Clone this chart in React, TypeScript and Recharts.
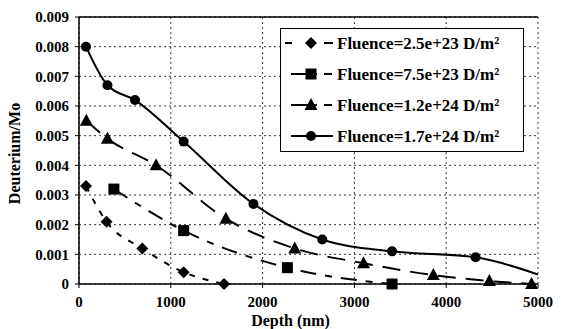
import React from 'react';
import {
  CartesianGrid,
  Line,
  LineChart,
  ReferenceLine,
  XAxis,
  YAxis,
} from 'recharts';

const depthTicks = [0, 1000, 2000, 3000, 4000, 5000];
const ratioTicks = [0, 0.001, 0.002, 0.003, 0.004, 0.005, 0.006, 0.007, 0.008, 0.009];

const depthA = [76, 300, 690, 1140, 1580];
const ratioA = [0.0033, 0.0021, 0.0012, 0.0004, 0];

const depthB = [380, 1140, 2270, 3410];
const ratioB = [0.0032, 0.0018, 0.00055, 0];

const depthC = [80, 310, 840, 1600, 2350, 3100, 3860, 4470, 4930];
const ratioC = [0.0055, 0.0049, 0.004, 0.0022, 0.0012, 0.0007, 0.0003, 0.0001, 0];

const depthD = [76, 310, 610, 1140, 1900, 2650, 3410, 4320, 5000];
const ratioD = [0.008, 0.0067, 0.0062, 0.0048, 0.0027, 0.0015, 0.0011, 0.0009, 0.00032];
// last point of D is only where the curve leaves the frame, no marker there
const markedD = [true, true, true, true, true, true, true, true, false];

const toPoints = (xs: number[], ys: number[]) => xs.map((x, i) => ({ x, y: ys[i], i }));

const FONT = '"Liberation Serif", "Times New Roman", serif';
const INK = '#000';

type Shape = 'diamond' | 'square' | 'triangle' | 'circle';

function marker(shape: Shape, cx: number, cy: number, key?: React.Key) {
  if (shape === 'diamond')
    return <path key={key} d={`M${cx},${cy - 6}L${cx + 6},${cy}L${cx},${cy + 6}L${cx - 6},${cy}Z`} fill={INK} />;
  if (shape === 'square') return <rect key={key} x={cx - 5.5} y={cy - 5.5} width={11} height={11} fill={INK} />;
  if (shape === 'triangle')
    return <path key={key} d={`M${cx},${cy - 7}L${cx + 6.5},${cy + 5}L${cx - 6.5},${cy + 5}Z`} fill={INK} />;
  return <circle key={key} cx={cx} cy={cy} r={5} fill={INK} />;
}

// legendDash: how the short sample in the legend box is broken up
const series = [
  { name: 'Fluence=2.5e+23 D/m²', data: toPoints(depthA, ratioA), shape: 'diamond' as Shape, dash: '6 8', legendFrom: 4, legendDash: '7 32 9 100' },
  { name: 'Fluence=7.5e+23 D/m²', data: toPoints(depthB, ratioB), shape: 'square' as Shape, dash: '16 9 7 9', legendFrom: 10, legendDash: '26 7 8 100' },
  { name: 'Fluence=1.2e+24 D/m²', data: toPoints(depthC, ratioC), shape: 'triangle' as Shape, dash: '18 10', legendFrom: 10, legendDash: '26 7 8 100' },
  { name: 'Fluence=1.7e+24 D/m²', data: toPoints(depthD, ratioD), shape: 'circle' as Shape, dash: undefined, legendFrom: 10, legendDash: undefined },
];

const tickStyle = { fill: INK, fontFamily: FONT, fontSize: 15, fontWeight: 700 };

function LegendBox() {
  return (
    <div
      style={{
        position: 'absolute',
        left: 280,
        top: 28,
        width: 242,
        height: 122,
        border: `1px solid ${INK}`,
        background: '#fff',
      }}
    >
      <svg width={242} height={122} style={{ display: 'block' }}>
        {series.map((s, i) => {
          const y = 14 + i * 31;
          return (
            <g key={s.name}>
              <line x1={s.legendFrom} x2={52} y1={y} y2={y} stroke={INK} strokeWidth={2} strokeDasharray={s.legendDash} />
              {marker(s.shape, 30, y)}
              <text x={56} y={y + 6} fontFamily={FONT} fontSize={17} fontWeight={700} fill={INK}>
                {s.name}
              </text>
            </g>
          );
        })}
      </svg>
    </div>
  );
}

export default function App() {
  return (
    <div style={{ position: 'absolute', left: 0, top: 0, width: 563, height: 329, background: '#fff' }}>
      <LineChart width={563} height={329} margin={{ top: 17, right: 25, bottom: 0, left: 0 }}>
        <CartesianGrid stroke="#333" strokeDasharray="2 3" />
        <XAxis
          type="number"
          dataKey="x"
          domain={[0, 5000]}
          ticks={depthTicks}
          allowDataOverflow
          height={45}
          tick={tickStyle}
          tickSize={4}
          tickMargin={8}
          axisLine={{ stroke: INK, strokeWidth: 1.5 }}
          tickLine={{ stroke: INK }}
          label={{
            value: 'Depth (nm)',
            position: 'insideBottom',
            offset: 3,
            dx: -18,
            style: { fill: INK, fontFamily: FONT, fontSize: 16, fontWeight: 700 },
          }}
        />
        <YAxis
          type="number"
          dataKey="y"
          domain={[0, 0.009]}
          ticks={ratioTicks}
          interval={0}
          width={79}
          tick={tickStyle}
          tickSize={4}
          tickMargin={6}
          tickFormatter={(v: number) => (v === 0 ? '0' : v.toFixed(3))}
          axisLine={{ stroke: INK, strokeWidth: 1.5 }}
          tickLine={{ stroke: INK }}
          label={{
            value: 'Deuterium/Mo',
            angle: -90,
            position: 'insideLeft',
            offset: 14,
            dy: 3,
            style: { fill: INK, fontFamily: FONT, fontSize: 16, fontWeight: 700, textAnchor: 'middle' },
          }}
        />
        <ReferenceLine y={0.009} stroke={INK} strokeWidth={1.5} />
        {series.map((s) => (
          <Line
            key={s.name}
            data={s.data}
            dataKey="y"
            name={s.name}
            type="monotone"
            stroke={INK}
            strokeWidth={2}
            strokeDasharray={s.dash}
            isAnimationActive={false}
            activeDot={false}
            dot={(p: any) => {
              const idx = p.payload?.i ?? p.index;
              if (s.shape === 'circle' && !markedD[idx]) return <g key={`n-${idx}`} />;
              return marker(s.shape, p.cx, p.cy, `${s.shape}-${idx}`);
            }}
          />
        ))}
      </LineChart>
      <LegendBox />
    </div>
  );
}
